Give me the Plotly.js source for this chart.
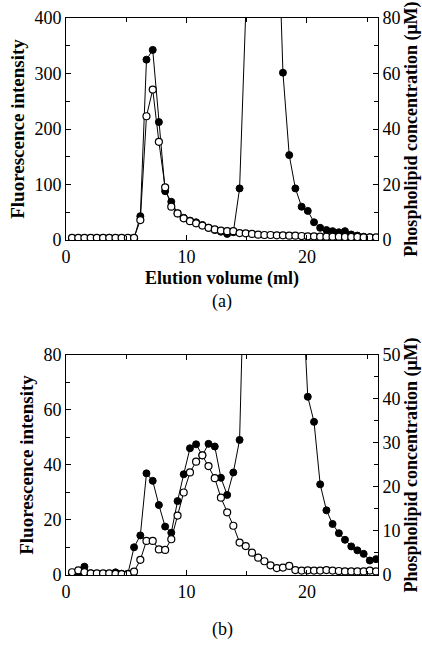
<!DOCTYPE html>
<html>
<head>
<meta charset="utf-8">
<script src="https://cdn.plot.ly/plotly-3.0.1.min.js"></script>
<style>html,body{margin:0;padding:0;background:#fff}#chart{width:422px;height:651px}</style>
</head>
<body>
<div id="chart"></div>
<script>
// Elution volume of each fraction (ml)
const elutionVolume = [0.50,1.02,1.53,2.05,2.56,3.08,3.59,4.11,4.62,5.14,5.65,6.17,6.68,7.20,7.71,8.23,8.74,9.26,9.77,10.29,
  10.80,11.32,11.83,12.35,12.86,13.38,13.89,14.41,14.92,15.44,15.95,16.47,16.98,17.50,18.01,18.53,19.04,19.56,20.07,20.59,
  21.10,21.62,22.13,22.65,23.16,23.68,24.19,24.71,25.22,25.74];

// Panel (a)
const fluorA = [4,4,4,4,4,4,4,4,4,4,4,
  36,223,271,177,95,60,48,39,34,30,26,22,19,17,16,16,
  12.6,12,11,9.6,9,9,8.4,8.4,7.8,7.8,7.2,6.6,6.6,6,6,6,6,5.4,5.4,5.4,4.8,4.8,4.8];
const lipidA = [0.7,0.7,0.6,0.7,0.7,0.8,0.8,0.6,0.6,0.6,0.6,
  8.6,65,68.5,42.5,17.6,13.8,9.6,8,7,6.4,5.4,4.4,3.6,3.0,2.2,2.8,
  18.6,82,200,300,300,220,130,60.3,
  30.6,18.6,12,10.5,6.4,4.4,3.6,3.2,2.8,3.2,2.0,1.6,1.2,1.0,0.6];

// Panel (b)
const fluorB = [1.0,1.7,1.0,0.6,0.6,0.6,0.6,0.4,0.3,0.3,1.2,
  5.5,12.4,12.4,9.3,9.1,13,21.6,30,37.3,41.2,43.5,39.6,35.2,28.1,22.8,17.9,11.8,
  10.5,8.1,6.3,5.0,3.5,2.5,2.7,3.3,
  1.8,1.6,1.7,1.6,1.6,1.8,1.6,1.45,1.3,1.3,1.3,1.3,1.6,1.3];
const lipidB = [0.4,0.5,1.9,0.4,0.3,-0.4,0.3,0.6,0.3,0.3,6.3,
  9.0,23.1,21.4,15.9,11.0,9.6,16.8,22.9,28.8,29.7,27.2,29.8,29.2,22.1,18.2,23.3,30.7,
  85,200,300,350,350,300,250,180,120,68,
  40.5,34.8,20.6,14.7,11.6,9.5,8.0,6.5,5.6,4.8,3.3,3.6];

const xTitle = 'Elution volume (ml)';
const yLeftTitle = 'Fluorescence intensity';
const yRightTitle = 'Phospholipid concentration (μM)';
const panelLabels = ['(a)', '(b)'];

const SERIF = 'Liberation Serif, Times New Roman, serif';
const filledStyle = {mode:'lines+markers', line:{color:'#000', width:1},
  marker:{symbol:'circle', size:7, color:'#000', line:{color:'#000', width:1}}, showlegend:false};
const openStyle = {mode:'lines+markers', line:{color:'#000', width:1},
  marker:{symbol:'circle', size:7, color:'#fff', line:{color:'#000', width:1.2}}, showlegend:false};

const traces = [
  Object.assign({x:elutionVolume, y:lipidA, xaxis:'x', yaxis:'y2', name:'phospholipid (a)'}, filledStyle),
  Object.assign({x:elutionVolume, y:fluorA, xaxis:'x', yaxis:'y', name:'fluorescence (a)'}, openStyle),
  Object.assign({x:elutionVolume, y:lipidB, xaxis:'x2', yaxis:'y4', name:'phospholipid (b)'}, filledStyle),
  Object.assign({x:elutionVolume, y:fluorB, xaxis:'x2', yaxis:'y3', name:'fluorescence (b)'}, openStyle)
];

const tickFont = {family:SERIF, size:18, color:'#000'};
const titleFont = {family:SERIF, size:19, color:'#000', weight:'bold'};
const xTitleFont = {family:SERIF, size:18, color:'#000', weight:'bold'};
const rTitleFont = {family:SERIF, size:18, color:'#000', weight:'bold'};
function axisBase(extra){
  return Object.assign({showgrid:false, zeroline:false, showline:true, linecolor:'#000', linewidth:1,
    ticks:'inside', ticklen:5, tickwidth:1, tickcolor:'#000', tickfont:tickFont, automargin:false}, extra);
}

const layout = {
  width:422, height:651,
  margin:{l:66, r:44, t:18, b:76},
  paper_bgcolor:'#fff', plot_bgcolor:'#fff',
  font:{family:SERIF, color:'#000'},
  showlegend:false,
  xaxis: axisBase({anchor:'y2', domain:[0,1], range:[0,25.9], tick0:0, dtick:10, mirror:'ticks',
    minor:{dtick:5, ticks:'inside', ticklen:4, tickcolor:'#000'},
    title:{text:xTitle, font:xTitleFont, standoff:5}}),
  yaxis2: axisBase({anchor:'x', side:'right', domain:[0.6014,1], range:[0,80], tick0:0, dtick:20,
    minor:{dtick:10, ticks:'inside', ticklen:4, tickcolor:'#000'},
    title:{text:yRightTitle, font:rTitleFont, standoff:2}}),
  yaxis: axisBase({anchor:'x', overlaying:'y2', side:'left', range:[0,400], tick0:0, dtick:100,
    minor:{dtick:50, ticks:'inside', ticklen:4, tickcolor:'#000'},
    title:{text:yLeftTitle, font:titleFont, standoff:4}}),
  xaxis2: axisBase({anchor:'y4', domain:[0,1], range:[0,25.9], tick0:0, dtick:10, mirror:'ticks',
    minor:{dtick:5, ticks:'inside', ticklen:4, tickcolor:'#000'}}),
  yaxis4: axisBase({anchor:'x2', side:'right', domain:[0,0.395], range:[0,50], tick0:0, dtick:10,
    minor:{dtick:5, ticks:'inside', ticklen:4, tickcolor:'#000'},
    title:{text:yRightTitle, font:rTitleFont, standoff:2}}),
  yaxis3: axisBase({anchor:'x2', overlaying:'y4', side:'left', range:[0,80], tick0:0, dtick:20,
    minor:{dtick:10, ticks:'inside', ticklen:4, tickcolor:'#000'},
    title:{text:yLeftTitle, font:titleFont, standoff:4}}),
  annotations:[
    {text:panelLabels[0], xref:'paper', yref:'paper', x:0.5, y:0.491, xanchor:'center', yanchor:'middle',
     showarrow:false, font:{family:SERIF, size:18, color:'#000'}},
    {text:panelLabels[1], xref:'paper', yref:'paper', x:0.5, y:-0.097, xanchor:'center', yanchor:'middle',
     showarrow:false, font:{family:SERIF, size:18, color:'#000'}}
  ]
};

Plotly.newPlot('chart', traces, layout, {displayModeBar:false, staticPlot:true});
</script>
</body>
</html>
